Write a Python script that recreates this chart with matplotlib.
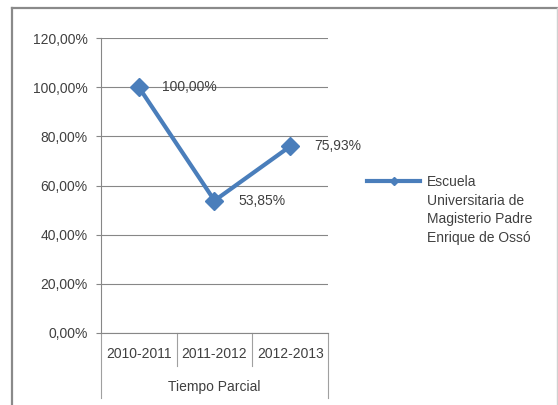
#!/usr/bin/env python3
import matplotlib
matplotlib.use("Agg")
import matplotlib.pyplot as plt
from matplotlib.lines import Line2D
from matplotlib.ticker import FuncFormatter

categories = ["2010-2011", "2011-2012", "2012-2013"]
group_label = "Tiempo Parcial"
values = [1.0, 0.5385, 0.7593]
series_name = "Escuela\nUniversitaria de\nMagisterio Padre\nEnrique de Ossó"
y_ticks = [0.0, 0.2, 0.4, 0.6, 0.8, 1.0, 1.2]

W, H = 558, 405
BLUE = "#4A7EBB"
GRID = "#878787"
TEXT = "#404040"

plt.rcParams["font.family"] = ["Liberation Sans", "DejaVu Sans"]

fig = plt.figure(figsize=(W / 100, H / 100), dpi=100)
fig.patch.set_facecolor("white")


def px(x, y):
    return x / W, 1 - y / H


# chart frame (cropped at bottom)
fig.add_artist(Line2D([12 / W, 12 / W], [-0.01, 1 - 8 / H], color="#8a8a8a", lw=1.6))
fig.add_artist(Line2D([12 / W, 556.5 / W], [1 - 8 / H, 1 - 8 / H], color="#8a8a8a", lw=1.6))
fig.add_artist(Line2D([556.5 / W, 556.5 / W], [-0.01, 1 - 8 / H], color="#d0d0d0", lw=1.0))

left, top = px(101, 38)
right, bottom = px(328, 333)
ax = fig.add_axes([left, bottom, right - left, top - bottom])

x = list(range(len(categories)))
ax.plot(x, values, color=BLUE, lw=3.0, marker="D", ms=9.5, zorder=3)

for xi, v in zip(x, values):
    lbl = f"{v * 100:.2f}%".replace(".", ",")
    ax.annotate(lbl, (xi, v), xytext=(17, 0), textcoords="offset points",
                ha="left", va="center", fontsize=10, color=TEXT)

ax.set_xlim(-0.5, len(categories) - 0.5)
ax.set_ylim(0, 1.2)
ax.set_yticks(y_ticks)
ax.yaxis.set_major_formatter(FuncFormatter(lambda v, p: f"{v * 100:.2f}%".replace(".", ",")))
ax.grid(True, axis="y", color=GRID, lw=0.8)
ax.set_axisbelow(True)
ax.tick_params(axis="y", direction="out", length=3.6, width=0.8, color=GRID,
               labelsize=10, labelcolor=TEXT, pad=6)
ax.set_xticks([])
for s in ["top", "right"]:
    ax.spines[s].set_visible(False)
for s in ["left", "bottom"]:
    ax.spines[s].set_color(GRID)
    ax.spines[s].set_linewidth(0.8)

# category axis separators and labels
tr = ax.get_xaxis_transform()
ah = 295.0
for i in range(len(categories) + 1):
    xs = i - 0.5
    depth = 65 if i in (0, len(categories)) else 33
    ax.add_line(Line2D([xs, xs], [0, -depth / ah], transform=tr, color="#a0a0a0",
                       lw=0.8, clip_on=False))
for xi, c in zip(x, categories):
    ax.text(xi, -21 / ah, c, transform=tr, ha="center", va="center",
            fontsize=10, color=TEXT)
ax.text((len(categories) - 1) / 2, -54 / ah, group_label, transform=tr,
        ha="center", va="center", fontsize=10, color=TEXT)

# legend
lx0, ly = px(367, 181)
lx1, _ = px(420, 181)
fig.add_artist(Line2D([lx0, lx1], [ly, ly], color=BLUE, lw=3.0))
fig.add_artist(Line2D([(lx0 + lx1) / 2], [ly], color=BLUE, marker="D", ms=4, lw=0))
tx, ty = px(427, 175)
fig.text(tx, ty, series_name, ha="left", va="top", fontsize=10, color=TEXT,
         linespacing=1.43)

fig.savefig("out.png", dpi=100)
